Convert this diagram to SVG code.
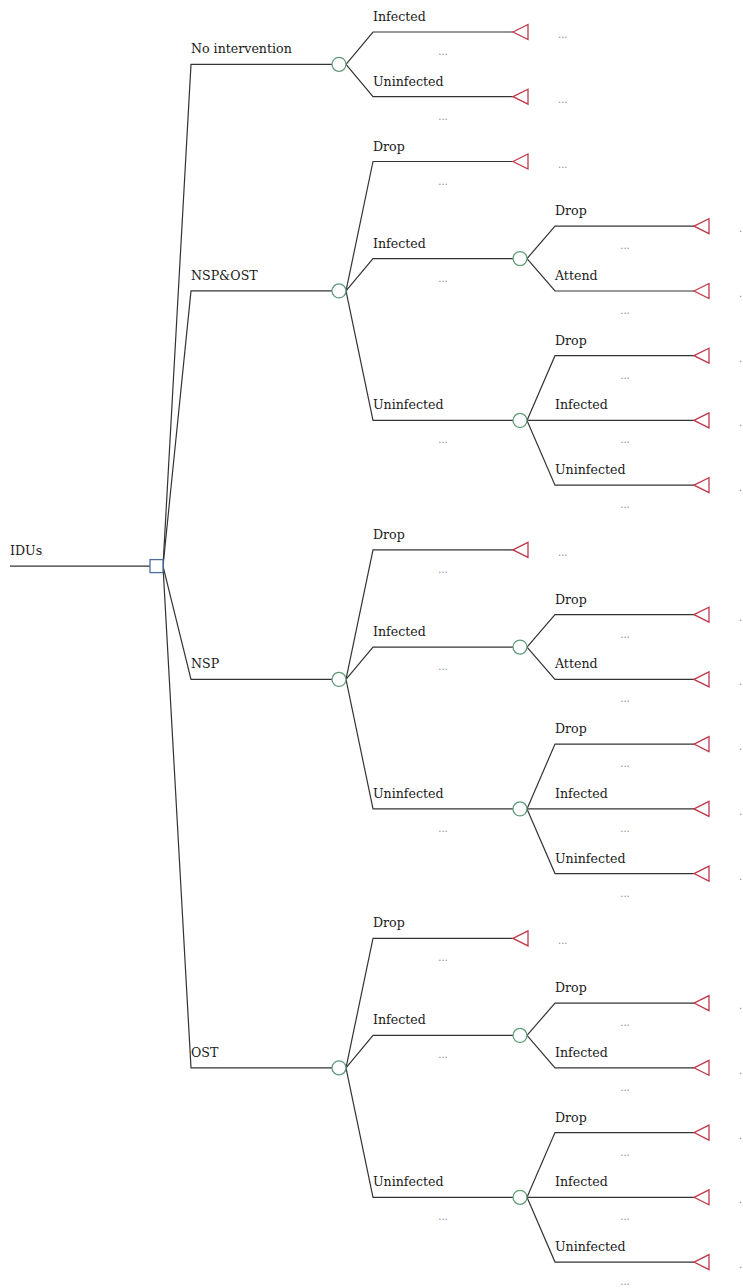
<svg xmlns="http://www.w3.org/2000/svg" width="743" height="1288" viewBox="0 0 743 1288">
<style>
.e{fill:none;stroke:#333;stroke-width:1.2}
.lb{font-family:"DejaVu Serif",serif;font-size:12.6px;fill:#1a1a1a}
.d{font-family:"DejaVu Sans",sans-serif;font-size:10px;fill:#888}
.dm{font-family:"DejaVu Sans",sans-serif;font-size:10px;fill:#888;text-anchor:middle}
.ch{fill:#fff;stroke:#5f9a7a;stroke-width:1.3}
.dc{fill:#fff;stroke:#4d6fa0;stroke-width:1.3}
.tm{fill:#fff;stroke:#c0394b;stroke-width:1.3}
</style>
<defs>
<polygon id="tri" points="0,0 15,-7.5 15,7.5"/>
</defs>
<rect width="743" height="1288" fill="#fff"/>
<g id="connectors">
<path class="e" d="M10,566.1 L150,566.1"/>
<path class="e" d="M163,566.1 L191,64.35 L332,64.35"/>
<path class="e" d="M163,566.1 L191,290.95 L332,290.95"/>
<path class="e" d="M163,566.1 L191,679.4 L332,679.4"/>
<path class="e" d="M163,566.1 L191,1067.85 L332,1067.85"/>
<path class="e" d="M346,64.35 L373,32 L513,32"/>
<path class="e" d="M346,64.35 L373,96.7 L513,96.7"/>
<path class="e" d="M346,290.95 L373,161.5 L513,161.5"/>
<path class="e" d="M346,290.95 L373,258.6 L513,258.6"/>
<path class="e" d="M346,290.95 L373,420.4 L513,420.4"/>
<path class="e" d="M527,258.6 L555,226.2 L694,226.2"/>
<path class="e" d="M527,258.6 L555,291 L694,291"/>
<path class="e" d="M527,420.4 L555,355.7 L694,355.7"/>
<path class="e" d="M527,420.4 L555,420.4 L694,420.4"/>
<path class="e" d="M527,420.4 L555,485.2 L694,485.2"/>
<path class="e" d="M346,679.4 L373,549.9 L513,549.9"/>
<path class="e" d="M346,679.4 L373,647.05 L513,647.05"/>
<path class="e" d="M346,679.4 L373,808.9 L513,808.9"/>
<path class="e" d="M527,647.05 L555,614.7 L694,614.7"/>
<path class="e" d="M527,647.05 L555,679.4 L694,679.4"/>
<path class="e" d="M527,808.9 L555,744.1 L694,744.1"/>
<path class="e" d="M527,808.9 L555,808.9 L694,808.9"/>
<path class="e" d="M527,808.9 L555,873.6 L694,873.6"/>
<path class="e" d="M346,1067.85 L373,938.4 L513,938.4"/>
<path class="e" d="M346,1067.85 L373,1035.45 L513,1035.45"/>
<path class="e" d="M346,1067.85 L373,1197.3 L513,1197.3"/>
<path class="e" d="M527,1035.45 L555,1003.1 L694,1003.1"/>
<path class="e" d="M527,1035.45 L555,1067.8 L694,1067.8"/>
<path class="e" d="M527,1197.3 L555,1132.6 L694,1132.6"/>
<path class="e" d="M527,1197.3 L555,1197.3 L694,1197.3"/>
<path class="e" d="M527,1197.3 L555,1262.1 L694,1262.1"/>
</g>
<g id="labels">
<text class="lb" x="10" y="555">IDUs</text>
<text class="lb" x="191" y="53">No intervention</text>
<text class="lb" x="191" y="280">NSP&amp;OST</text>
<text class="lb" x="191" y="668.4">NSP</text>
<text class="lb" x="191" y="1057">OST</text>
<text class="lb" x="373" y="21">Infected</text>
<text class="lb" x="373" y="85.7">Uninfected</text>
<text class="lb" x="373" y="150.5">Drop</text>
<text class="lb" x="373" y="247.6">Infected</text>
<text class="lb" x="373" y="409.4">Uninfected</text>
<text class="lb" x="555" y="215.2">Drop</text>
<text class="lb" x="555" y="280">Attend</text>
<text class="lb" x="555" y="344.7">Drop</text>
<text class="lb" x="555" y="409.4">Infected</text>
<text class="lb" x="555" y="474.2">Uninfected</text>
<text class="lb" x="373" y="538.9">Drop</text>
<text class="lb" x="373" y="636">Infected</text>
<text class="lb" x="373" y="797.9">Uninfected</text>
<text class="lb" x="555" y="603.7">Drop</text>
<text class="lb" x="555" y="668.4">Attend</text>
<text class="lb" x="555" y="733.1">Drop</text>
<text class="lb" x="555" y="797.9">Infected</text>
<text class="lb" x="555" y="862.6">Uninfected</text>
<text class="lb" x="373" y="927.4">Drop</text>
<text class="lb" x="373" y="1024.4">Infected</text>
<text class="lb" x="373" y="1186.3">Uninfected</text>
<text class="lb" x="555" y="992.1">Drop</text>
<text class="lb" x="555" y="1056.8">Infected</text>
<text class="lb" x="555" y="1121.6">Drop</text>
<text class="lb" x="555" y="1186.3">Infected</text>
<text class="lb" x="555" y="1251.1">Uninfected</text>
<text class="dm" x="443" y="55">...</text>
<text class="dm" x="443" y="119.7">...</text>
<text class="dm" x="443" y="184.5">...</text>
<text class="dm" x="443" y="281.6">...</text>
<text class="dm" x="443" y="443.4">...</text>
<text class="dm" x="443" y="572.9">...</text>
<text class="dm" x="443" y="670">...</text>
<text class="dm" x="443" y="831.9">...</text>
<text class="dm" x="443" y="961.4">...</text>
<text class="dm" x="443" y="1058.4">...</text>
<text class="dm" x="443" y="1220.3">...</text>
<text class="dm" x="625" y="249.2">...</text>
<text class="dm" x="625" y="314">...</text>
<text class="dm" x="625" y="378.7">...</text>
<text class="dm" x="625" y="443.4">...</text>
<text class="dm" x="625" y="508.2">...</text>
<text class="dm" x="625" y="637.7">...</text>
<text class="dm" x="625" y="702.4">...</text>
<text class="dm" x="625" y="767.1">...</text>
<text class="dm" x="625" y="831.9">...</text>
<text class="dm" x="625" y="896.6">...</text>
<text class="dm" x="625" y="1026.1">...</text>
<text class="dm" x="625" y="1090.8">...</text>
<text class="dm" x="625" y="1155.6">...</text>
<text class="dm" x="625" y="1220.3">...</text>
<text class="dm" x="625" y="1285.1">...</text>
<text class="d" x="558" y="38">...</text>
<text class="d" x="558" y="102.7">...</text>
<text class="d" x="558" y="167.5">...</text>
<text class="d" x="558" y="555.9">...</text>
<text class="d" x="558" y="944.4">...</text>
<text class="d" x="739" y="232.2">...</text>
<text class="d" x="739" y="297">...</text>
<text class="d" x="739" y="361.7">...</text>
<text class="d" x="739" y="426.4">...</text>
<text class="d" x="739" y="491.2">...</text>
<text class="d" x="739" y="620.7">...</text>
<text class="d" x="739" y="685.4">...</text>
<text class="d" x="739" y="750.1">...</text>
<text class="d" x="739" y="814.9">...</text>
<text class="d" x="739" y="879.6">...</text>
<text class="d" x="739" y="1009.1">...</text>
<text class="d" x="739" y="1073.8">...</text>
<text class="d" x="739" y="1138.6">...</text>
<text class="d" x="739" y="1203.3">...</text>
<text class="d" x="739" y="1268.1">...</text>
</g>
<g id="root"><rect class="dc" x="150" y="559.6" width="13" height="13"/></g>
<g id="c-noint"><circle class="ch" cx="339" cy="64.35" r="7"/></g>
<g id="c-nspost"><circle class="ch" cx="339" cy="290.95" r="7"/></g>
<g id="c-nsp"><circle class="ch" cx="339" cy="679.4" r="7"/></g>
<g id="c-ost"><circle class="ch" cx="339" cy="1067.85" r="7"/></g>
<g id="c-nspost-inf"><circle class="ch" cx="520" cy="258.6" r="7"/></g>
<g id="c-nspost-uninf"><circle class="ch" cx="520" cy="420.4" r="7"/></g>
<g id="c-nsp-inf"><circle class="ch" cx="520" cy="647.05" r="7"/></g>
<g id="c-nsp-uninf"><circle class="ch" cx="520" cy="808.9" r="7"/></g>
<g id="c-ost-inf"><circle class="ch" cx="520" cy="1035.45" r="7"/></g>
<g id="c-ost-uninf"><circle class="ch" cx="520" cy="1197.3" r="7"/></g>
<g id="terminals">
<g id="t1"><use href="#tri" class="tm" x="513" y="32"/></g>
<g id="t2"><use href="#tri" class="tm" x="513" y="96.7"/></g>
<g id="t3"><use href="#tri" class="tm" x="513" y="161.5"/></g>
<g id="t4"><use href="#tri" class="tm" x="694" y="226.2"/></g>
<g id="t5"><use href="#tri" class="tm" x="694" y="291"/></g>
<g id="t6"><use href="#tri" class="tm" x="694" y="355.7"/></g>
<g id="t7"><use href="#tri" class="tm" x="694" y="420.4"/></g>
<g id="t8"><use href="#tri" class="tm" x="694" y="485.2"/></g>
<g id="t9"><use href="#tri" class="tm" x="513" y="549.9"/></g>
<g id="t10"><use href="#tri" class="tm" x="694" y="614.7"/></g>
<g id="t11"><use href="#tri" class="tm" x="694" y="679.4"/></g>
<g id="t12"><use href="#tri" class="tm" x="694" y="744.1"/></g>
<g id="t13"><use href="#tri" class="tm" x="694" y="808.9"/></g>
<g id="t14"><use href="#tri" class="tm" x="694" y="873.6"/></g>
<g id="t15"><use href="#tri" class="tm" x="513" y="938.4"/></g>
<g id="t16"><use href="#tri" class="tm" x="694" y="1003.1"/></g>
<g id="t17"><use href="#tri" class="tm" x="694" y="1067.8"/></g>
<g id="t18"><use href="#tri" class="tm" x="694" y="1132.6"/></g>
<g id="t19"><use href="#tri" class="tm" x="694" y="1197.3"/></g>
<g id="t20"><use href="#tri" class="tm" x="694" y="1262.1"/></g>
</g>
</svg>
